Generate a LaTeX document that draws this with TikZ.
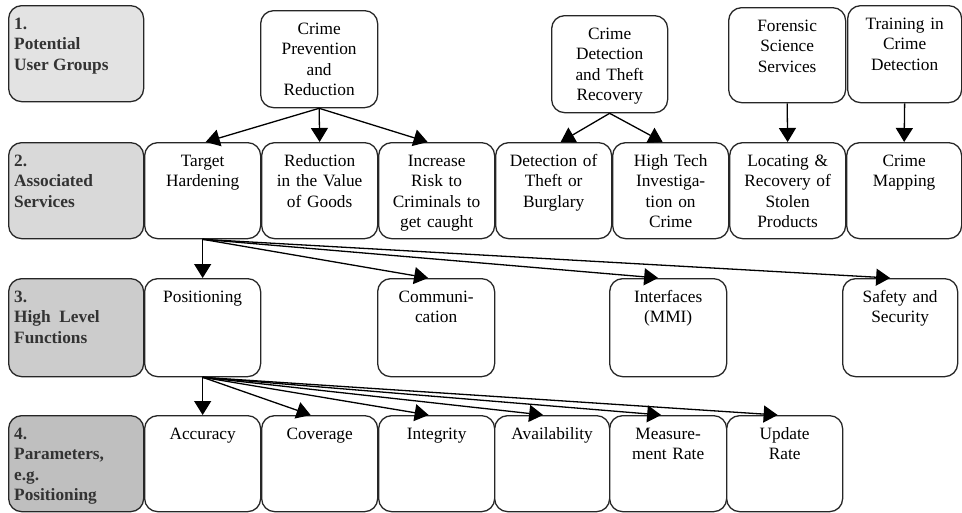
\documentclass[tikz,border=0pt]{standalone}
\usepackage{fontspec}
\setmainfont{Liberation Serif}
\usetikzlibrary{arrows.meta}
\tikzset{
  wbox/.style={draw=black!85, line width=1.3pt, rounded corners=13pt, fill=white, inner sep=0pt},
  wtext/.style={inner sep=0pt, align=center, font=\fontsize{17.3}{20.5}\selectfont},
  lbox/.style={draw=black!85, line width=1.3pt, rounded corners=13pt, inner sep=0pt, minimum width=135pt, anchor=north west},
  ltext/.style={inner sep=0pt, align=left, anchor=north west, text=black!80, font=\fontsize{17.3}{20.5}\selectfont\bfseries},
  arr/.style={-{Triangle[length=14pt,width=17pt]}, line width=1.3pt, draw=black}
}
\newcommand\crbox[6]{%
  \node[wbox, minimum width=#4pt, minimum height=#5pt, anchor=north west] (#1) at (#2,#3) {};
  \node[wtext, text width=#4pt, anchor=north] (#1-t) at ([yshift=-9.5pt]#1.north) {\strut #6};}
\newcommand\crlab[5]{%
  \node[lbox, fill=#4, minimum height=#3pt] (#1) at (8,#2) {};
  \node[ltext] (#1-t) at ([xshift=6pt,yshift=-9.5pt]#1.north west) {\strut #5};}
\begin{document}
\begin{tikzpicture}[x=1pt,y=-1pt]
\useasboundingbox (0,0) rectangle (962,512);
% left labels
\crlab{l1}{5}{96}{black!11}{1.\\Potential\\User Groups}
\crlab{l2}{142}{96}{black!15}{2.\\Associated\\Services}
\crlab{l3}{278}{98}{black!20}{3.\\High~ Level\\Functions}
\crlab{l4}{415}{96}{black!25}{4.\\Parameters,\\e.g.\\Positioning}
% row 1
\crbox{cp}{260}{10}{117}{97}{Crime\\Prevention\\and\\Reduction}
\crbox{cd}{551}{15}{116}{97}{Crime\\Detection\\and Theft\\Recovery}
\crbox{fs}{728}{7}{117}{95}{Forensic\\Science\\Services}
\crbox{tr}{847}{5}{114}{97}{Training in\\Crime\\Detection}
% row 2
\crbox{th}{144}{142}{116}{96}{Target\\Hardening}
\crbox{rv}{261}{142}{116}{96}{Reduction\\in the Value\\of Goods}
\crbox{ir}{378}{142}{116}{96}{Increase\\Risk to\\Criminals to\\get caught}
\crbox{dt}{495}{142}{116}{96}{Detection of\\Theft or\\Burglary}
\crbox{ht}{612}{142}{116}{96}{High Tech\\Investiga-\\tion on\\Crime}
\crbox{lr}{729}{142}{116}{96}{Locating \&\\Recovery of\\Stolen\\Products}
\crbox{cm}{846}{142}{115}{96}{Crime\\Mapping}
% row 3
\crbox{pos}{144}{278}{116}{98}{Positioning}
\crbox{com}{377}{278}{117}{98}{Communi-\\cation}
\crbox{mmi}{609}{278}{117}{98}{Interfaces\\(MMI)}
\crbox{saf}{842}{278}{115}{98}{Safety and\\Security}
% row 4
\crbox{acc}{144}{415}{116}{96}{Accuracy}
\crbox{cov}{261}{415}{116}{96}{Coverage}
\crbox{int}{378}{415}{116}{96}{Integrity}
\crbox{av}{494}{415}{115}{96}{Availability}
\crbox{mr}{609}{415}{117}{96}{Measure-\\ment Rate}
\crbox{ur}{726}{415}{116}{96}{Update\\Rate}
% arrows
\draw[arr] (cp.south) -- ([xshift=3pt]th.north);
\draw[arr] (cp.south) -- (rv.north);
\draw[arr] (cp.south) -- ([xshift=-9pt]ir.north);
\draw[arr] (cd.south) -- ([xshift=7pt]dt.north);
\draw[arr] (cd.south) -- ([xshift=-8pt]ht.north);
\draw[arr] (fs.south) -- (lr.north);
\draw[arr] (tr.south) -- (cm.north);
\draw[arr] (th.south) -- (pos.north);
\draw[arr] (th.south) -- ([xshift=-8pt]com.north);
\draw[arr] (th.south) -- ([xshift=-10pt]mmi.north);
\draw[arr] (th.south) -- ([xshift=-10pt]saf.north);
\draw[arr] (pos.south) -- (acc.north);
\draw[arr] (pos.south) -- ([xshift=-9pt]cov.north);
\draw[arr] (pos.south) -- ([xshift=-8pt]int.north);
\draw[arr] (pos.south) -- ([xshift=-9pt]av.north);
\draw[arr] (pos.south) -- ([xshift=-7pt]mr.north);
\draw[arr] (pos.south) -- ([xshift=-7pt]ur.north);
\end{tikzpicture}
\end{document}
